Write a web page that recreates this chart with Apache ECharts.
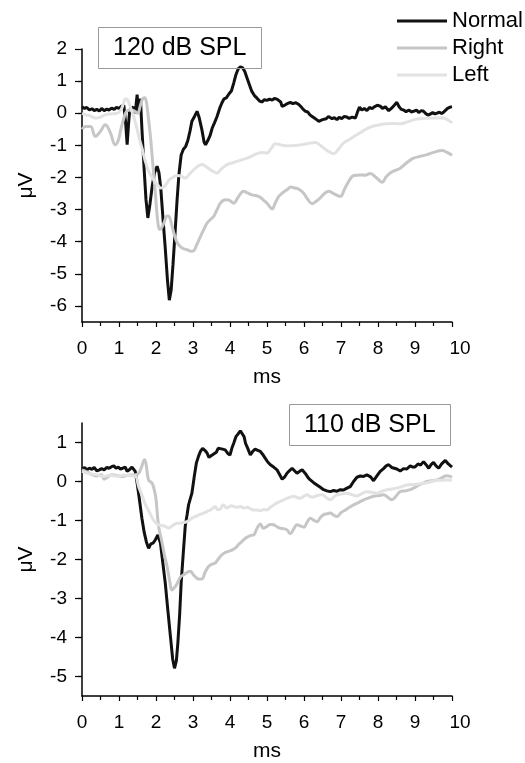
<!DOCTYPE html>
<html>
<head>
<meta charset="utf-8">
<script src="https://cdn.jsdelivr.net/npm/echarts@6/dist/echarts.min.js"></script>
<style>
html,body{margin:0;padding:0;background:#fff;}
#chart{width:525px;height:763px;}
</style>
</head>
<body>
<div id="chart"></div>
<script>
// ---------- DATA ----------
var seriesNames = ['Normal', 'Right', 'Left'];
var panelTitles = ['120 dB SPL', '110 dB SPL'];
var xTicks = [0,1,2,3,4,5,6,7,8,9,10];
var topYTicks = [-6,-5,-4,-3,-2,-1,0,1,2];
var botYTicks = [-5,-4,-3,-2,-1,0,1];

// Top panel (120 dB SPL) — time (ms) and amplitude (µV)
var topNormalT = [0.00,0.07,0.13,0.20,0.27,0.33,0.40,0.47,0.53,0.60,0.67,0.73,0.80,0.87,0.93,1.00,1.07,1.13,1.18,1.22,1.26,1.29,1.34,1.38,1.42,1.46,1.49,1.52,1.55,1.58,1.62,1.68,1.73,1.78,1.84,1.90,1.96,2.03,2.08,2.13,2.19,2.25,2.31,2.36,2.41,2.46,2.52,2.57,2.62,2.68,2.74,2.80,2.86,2.92,2.97,3.04,3.11,3.17,3.24,3.30,3.34,3.40,3.46,3.52,3.58,3.65,3.72,3.78,3.84,3.90,3.97,4.04,4.10,4.16,4.22,4.28,4.34,4.40,4.46,4.52,4.59,4.66,4.73,4.80,4.86,4.93,5.00,5.07,5.14,5.20,5.27,5.32,5.37,5.41,5.48,5.55,5.63,5.70,5.78,5.86,5.92,5.98,6.04,6.10,6.16,6.22,6.28,6.34,6.40,6.44,6.50,6.55,6.60,6.66,6.71,6.76,6.82,6.89,6.95,7.02,7.08,7.16,7.22,7.30,7.39,7.45,7.50,7.56,7.63,7.70,7.77,7.84,7.90,7.98,8.06,8.12,8.20,8.29,8.36,8.44,8.51,8.57,8.63,8.69,8.76,8.84,8.90,8.96,9.04,9.10,9.17,9.23,9.30,9.36,9.41,9.48,9.54,9.59,9.66,9.72,9.78,9.82,9.88,9.95,10.00];
var topNormalV = [0.20,0.15,0.18,0.10,0.14,0.08,0.12,0.07,0.15,0.08,0.13,0.10,0.16,0.12,0.18,0.15,0.22,0.25,-0.30,-0.98,-0.30,0.10,0.05,0.20,0.00,0.25,0.58,0.05,0.10,0.45,-0.50,-1.76,-2.70,-3.26,-2.80,-2.25,-1.85,-1.65,-1.85,-2.35,-3.30,-4.20,-5.20,-5.82,-5.50,-4.70,-3.63,-2.70,-1.90,-1.30,-1.12,-1.04,-0.85,-0.55,-0.25,-0.10,0.06,-0.15,-0.51,-0.90,-0.98,-0.85,-0.70,-0.46,-0.30,-0.10,0.15,0.32,0.45,0.48,0.60,0.70,0.94,1.20,1.38,1.44,1.42,1.30,1.10,0.90,0.68,0.55,0.47,0.38,0.35,0.42,0.40,0.44,0.41,0.46,0.44,0.47,0.35,0.21,0.25,0.30,0.34,0.30,0.33,0.27,0.20,0.12,0.06,0.04,-0.05,-0.10,-0.15,-0.20,-0.25,-0.28,-0.20,-0.24,-0.17,-0.10,-0.08,-0.17,-0.14,-0.20,-0.13,-0.17,-0.10,-0.12,-0.16,-0.12,-0.15,0.05,0.19,0.10,0.15,0.08,0.18,0.14,0.20,0.25,0.22,0.15,0.20,0.08,0.15,0.25,0.34,0.20,0.12,0.10,0.05,0.10,0.04,0.06,0.10,0.02,0.08,0.06,-0.02,-0.06,-0.08,0.02,-0.02,0.00,0.03,-0.01,0.04,0.00,0.15,0.19,0.20];

var topRightT = [0.00,0.09,0.23,0.36,0.50,0.63,0.77,0.90,0.98,1.05,1.12,1.20,1.30,1.40,1.50,1.58,1.64,1.69,1.74,1.80,1.86,1.93,1.99,2.05,2.10,2.16,2.22,2.30,2.36,2.43,2.50,2.58,2.66,2.75,2.84,2.95,3.02,3.10,3.20,3.30,3.38,3.48,3.56,3.65,3.74,3.84,3.92,4.00,4.10,4.20,4.30,4.37,4.47,4.59,4.70,4.82,4.92,5.00,5.08,5.14,5.22,5.32,5.42,5.54,5.65,5.75,5.85,5.99,6.10,6.22,6.32,6.44,6.55,6.67,6.80,6.98,7.10,7.21,7.34,7.52,7.65,7.79,7.95,8.11,8.22,8.33,8.47,8.60,8.80,8.96,9.15,9.32,9.50,9.73,9.87,10.00];
var topRightV = [-0.50,-0.41,-0.41,-0.72,-0.56,-0.36,-0.62,-0.98,-0.85,-0.50,-0.20,0.05,0.10,0.08,0.00,0.25,0.45,0.48,0.35,-0.20,-0.85,-1.80,-2.60,-3.40,-3.62,-3.55,-3.40,-3.20,-3.22,-3.50,-3.80,-4.05,-4.15,-4.22,-4.25,-4.30,-4.28,-4.10,-3.84,-3.60,-3.42,-3.30,-3.21,-3.00,-2.80,-2.70,-2.69,-2.72,-2.80,-2.65,-2.48,-2.43,-2.48,-2.54,-2.56,-2.62,-2.72,-2.80,-2.92,-2.98,-2.80,-2.59,-2.48,-2.38,-2.30,-2.33,-2.36,-2.49,-2.68,-2.82,-2.75,-2.64,-2.50,-2.43,-2.50,-2.59,-2.35,-2.12,-1.94,-1.92,-1.93,-1.88,-2.00,-2.15,-1.98,-1.86,-1.78,-1.71,-1.52,-1.40,-1.34,-1.29,-1.22,-1.16,-1.22,-1.31];

var topLeftT = [0.00,0.10,0.23,0.36,0.50,0.63,0.80,0.95,1.05,1.12,1.18,1.23,1.29,1.35,1.42,1.48,1.55,1.62,1.70,1.80,1.90,1.98,2.06,2.12,2.20,2.28,2.36,2.45,2.57,2.68,2.79,2.90,3.02,3.13,3.24,3.35,3.47,3.56,3.65,3.78,3.92,4.05,4.19,4.32,4.46,4.60,4.73,4.87,5.00,5.10,5.23,5.35,5.50,5.65,5.83,6.00,6.15,6.31,6.42,6.53,6.65,6.80,6.93,7.07,7.25,7.43,7.60,7.79,8.00,8.20,8.40,8.60,8.80,9.05,9.30,9.50,9.77,9.90,10.00];
var topLeftV = [0.00,-0.05,-0.08,-0.15,-0.12,-0.05,-0.02,0.00,0.10,0.30,0.45,0.42,0.25,0.05,-0.20,-0.46,-0.80,-1.08,-1.45,-1.80,-2.00,-2.15,-2.25,-2.33,-2.30,-2.20,-2.07,-2.00,-1.94,-1.96,-2.02,-1.90,-1.76,-1.65,-1.60,-1.66,-1.76,-1.82,-1.86,-1.72,-1.60,-1.55,-1.50,-1.45,-1.40,-1.33,-1.26,-1.22,-1.24,-1.12,-0.95,-0.98,-1.01,-1.01,-1.00,-0.97,-0.93,-0.91,-0.98,-1.08,-1.18,-1.26,-1.12,-0.93,-0.80,-0.67,-0.55,-0.43,-0.37,-0.33,-0.32,-0.33,-0.27,-0.18,-0.16,-0.15,-0.15,-0.22,-0.30];

// Bottom panel (110 dB SPL)
var botNormalT = [0.00,0.07,0.13,0.20,0.27,0.33,0.40,0.47,0.53,0.60,0.67,0.73,0.80,0.86,0.92,0.98,1.04,1.10,1.17,1.22,1.28,1.35,1.40,1.44,1.49,1.55,1.62,1.68,1.74,1.80,1.86,1.92,1.98,2.05,2.12,2.18,2.25,2.32,2.39,2.45,2.50,2.55,2.59,2.64,2.68,2.74,2.79,2.84,2.88,2.97,3.03,3.09,3.15,3.20,3.26,3.32,3.38,3.43,3.47,3.52,3.56,3.63,3.68,3.72,3.80,3.87,3.94,4.00,4.05,4.10,4.16,4.22,4.28,4.33,4.38,4.42,4.48,4.55,4.62,4.68,4.75,4.82,4.88,4.95,5.02,5.09,5.18,5.27,5.34,5.41,5.48,5.54,5.61,5.68,5.75,5.81,5.88,5.95,6.04,6.11,6.17,6.26,6.35,6.44,6.53,6.62,6.71,6.80,6.89,6.98,7.07,7.16,7.25,7.34,7.43,7.52,7.61,7.70,7.80,7.88,7.93,8.00,8.06,8.15,8.22,8.29,8.37,8.44,8.51,8.60,8.69,8.78,8.87,8.94,9.00,9.08,9.15,9.23,9.30,9.37,9.44,9.50,9.57,9.64,9.72,9.82,9.90,10.00];
var botNormalV = [0.32,0.36,0.30,0.34,0.31,0.36,0.27,0.30,0.33,0.30,0.36,0.34,0.38,0.40,0.34,0.37,0.32,0.34,0.37,0.26,0.30,0.37,0.33,0.26,-0.04,-0.45,-0.95,-1.30,-1.55,-1.71,-1.60,-1.58,-1.50,-1.37,-1.58,-2.05,-2.60,-3.30,-3.97,-4.55,-4.79,-4.60,-4.15,-3.40,-2.60,-1.80,-1.15,-0.85,-0.60,-0.30,0.10,0.47,0.65,0.77,0.85,0.80,0.73,0.62,0.60,0.68,0.66,0.75,0.85,0.82,0.83,0.81,0.72,0.68,0.85,0.98,1.15,1.22,1.30,1.31,1.15,0.98,0.85,0.68,0.78,0.83,0.80,0.77,0.70,0.60,0.50,0.43,0.37,0.30,0.18,0.06,0.12,0.21,0.28,0.34,0.27,0.21,0.26,0.30,0.20,0.10,0.04,-0.03,-0.09,-0.15,-0.21,-0.24,-0.26,-0.23,-0.25,-0.21,-0.22,-0.17,-0.13,0.00,0.11,0.14,0.13,0.17,0.12,0.02,0.04,0.18,0.26,0.33,0.40,0.43,0.36,0.34,0.32,0.27,0.33,0.32,0.40,0.37,0.37,0.45,0.42,0.51,0.43,0.34,0.44,0.49,0.40,0.34,0.45,0.54,0.45,0.37];

var botRightT = [0.00,0.15,0.28,0.40,0.52,0.60,0.67,0.80,0.95,1.10,1.25,1.40,1.52,1.60,1.66,1.69,1.73,1.80,1.89,1.95,2.00,2.07,2.16,2.23,2.30,2.37,2.43,2.50,2.57,2.66,2.75,2.84,2.93,3.00,3.06,3.15,3.24,3.33,3.42,3.51,3.60,3.69,3.78,3.87,3.96,4.05,4.14,4.23,4.32,4.41,4.50,4.57,4.64,4.73,4.82,4.90,5.00,5.09,5.18,5.27,5.36,5.45,5.54,5.63,5.72,5.81,5.90,6.00,6.08,6.17,6.26,6.35,6.44,6.53,6.62,6.71,6.80,6.89,7.00,7.12,7.23,7.34,7.47,7.61,7.75,7.88,8.02,8.15,8.27,8.38,8.50,8.60,8.74,8.87,9.00,9.10,9.21,9.32,9.45,9.59,9.72,9.86,10.00];
var botRightV = [0.30,0.24,0.17,0.14,0.17,0.06,0.10,0.17,0.15,0.13,0.16,0.17,0.20,0.35,0.52,0.56,0.45,0.04,-0.04,-0.20,-0.45,-1.15,-1.55,-1.90,-2.18,-2.55,-2.78,-2.72,-2.62,-2.45,-2.39,-2.33,-2.30,-2.38,-2.44,-2.50,-2.50,-2.32,-2.18,-2.12,-2.09,-1.98,-1.88,-1.82,-1.79,-1.76,-1.71,-1.62,-1.54,-1.46,-1.41,-1.38,-1.37,-1.20,-1.09,-1.20,-1.15,-1.10,-1.11,-1.16,-1.20,-1.21,-1.24,-1.34,-1.22,-1.11,-1.14,-1.17,-1.05,-0.94,-0.99,-1.03,-0.93,-0.85,-0.83,-0.81,-0.86,-0.90,-0.80,-0.73,-0.66,-0.60,-0.54,-0.47,-0.42,-0.38,-0.36,-0.34,-0.41,-0.47,-0.36,-0.26,-0.24,-0.21,-0.15,-0.09,-0.05,0.00,0.02,0.04,0.09,0.15,0.11];

var botLeftT = [0.00,0.20,0.40,0.58,0.75,0.95,1.13,1.30,1.44,1.53,1.62,1.71,1.80,1.89,1.98,2.07,2.16,2.25,2.34,2.42,2.50,2.57,2.66,2.75,2.84,2.97,3.11,3.20,3.29,3.38,3.47,3.54,3.60,3.66,3.72,3.79,3.83,3.90,3.96,4.04,4.10,4.19,4.28,4.37,4.46,4.55,4.64,4.73,4.82,4.91,5.00,5.09,5.18,5.27,5.36,5.45,5.54,5.63,5.72,5.81,5.90,5.99,6.08,6.17,6.26,6.35,6.49,6.60,6.71,6.80,6.89,7.02,7.16,7.30,7.43,7.56,7.70,7.84,7.97,8.10,8.24,8.38,8.51,8.65,8.78,8.92,9.05,9.19,9.32,9.45,9.59,9.72,9.86,10.00];
var botLeftV = [0.26,0.20,0.17,0.13,0.16,0.14,0.16,0.15,0.14,-0.13,-0.35,-0.58,-0.75,-0.92,-1.05,-1.11,-1.13,-1.15,-1.19,-1.15,-1.10,-1.07,-1.07,-1.05,-1.03,-0.94,-0.88,-0.84,-0.81,-0.77,-0.73,-0.68,-0.64,-0.72,-0.72,-0.62,-0.60,-0.68,-0.66,-0.62,-0.64,-0.66,-0.64,-0.68,-0.66,-0.70,-0.73,-0.73,-0.75,-0.72,-0.73,-0.66,-0.60,-0.55,-0.51,-0.47,-0.43,-0.40,-0.38,-0.41,-0.43,-0.38,-0.34,-0.39,-0.40,-0.36,-0.34,-0.41,-0.47,-0.40,-0.34,-0.32,-0.30,-0.34,-0.37,-0.31,-0.26,-0.28,-0.30,-0.25,-0.21,-0.19,-0.17,-0.13,-0.09,-0.08,-0.07,-0.05,-0.03,0.00,0.03,0.03,0.04,0.03];

// ---------- CHART ----------
var FONT = '"Liberation Sans", Arial, Helvetica, sans-serif';
var colors = { Normal: '#111111', Right: '#c6c6c6', Left: '#e2e2e2' };
var TICK_FS = 19;

function pairs(T, V) { return T.map(function (t, i) { return [t, V[i]]; }); }

function xAx(grid) {
  return {
    type: 'value', gridIndex: grid, min: xTicks[0], max: xTicks[xTicks.length - 1], interval: 1,
    name: 'ms', nameLocation: 'middle', nameGap: 45,
    nameTextStyle: { fontSize: 21, color: '#000', fontFamily: FONT },
    axisLine: { show: true, onZero: false, lineStyle: { color: '#000', width: 1.5 } },
    axisTick: { show: true, inside: false, length: 5, lineStyle: { color: '#000', width: 1.2 } },
    minorTick: { show: true, splitNumber: 2, length: 4, lineStyle: { color: '#000', width: 1.2 } },
    axisLabel: {
      fontSize: TICK_FS, color: '#000', fontFamily: FONT, margin: 17,
      formatter: function (v) { return v === 10 ? '{r|10}' : String(v); },
      rich: { r: { fontSize: TICK_FS, color: '#000', fontFamily: FONT, padding: [0, 0, 0, 16] } }
    },
    splitLine: { show: false }, minorSplitLine: { show: false }
  };
}
function yAx(grid, mn, mx, ticks) {
  return {
    type: 'value', gridIndex: grid, min: mn, max: mx, interval: 1,
    name: 'μV', nameLocation: 'middle', nameGap: 45, nameRotate: 90,
    nameTextStyle: { fontSize: 21, color: '#000', fontFamily: FONT },
    axisLine: { show: true, onZero: false, lineStyle: { color: '#000', width: 1.5 } },
    axisTick: { show: true, inside: false, length: 7, customValues: ticks, lineStyle: { color: '#000', width: 1.2 } },
    minorTick: { show: true, splitNumber: 2, length: 4, lineStyle: { color: '#000', width: 1.2 } },
    axisLabel: { fontSize: TICK_FS, color: '#000', fontFamily: FONT, margin: 15, customValues: ticks },
    splitLine: { show: false }, minorSplitLine: { show: false }
  };
}
function ser(name, grid, T, V, smooth, z) {
  return {
    name: name, type: 'line', xAxisIndex: grid, yAxisIndex: grid,
    data: pairs(T, V), showSymbol: false, symbol: 'none', smooth: smooth, z: z,
    lineStyle: { color: colors[name], width: 3 },
    itemStyle: { color: colors[name] }
  };
}

var titleStyle = { fontSize: 25, fontWeight: 'normal', color: '#000', fontFamily: FONT };
var chart = echarts.init(document.getElementById('chart'), null, { renderer: 'canvas' });
chart.setOption({
  animation: false,
  backgroundColor: '#fff',
  textStyle: { fontFamily: FONT },
  title: [
    { text: panelTitles[0], left: 98, top: 27, padding: [9, 15, 8, 15],
      borderColor: '#999', borderWidth: 1, textStyle: titleStyle },
    { text: panelTitles[1], left: 289, top: 404, padding: [9, 15, 8, 15],
      borderColor: '#999', borderWidth: 1, textStyle: titleStyle }
  ],
  legend: {
    orient: 'vertical', left: 397, top: 10, padding: 0, itemWidth: 50, itemHeight: 3, itemGap: 5,
    icon: 'rect', data: seriesNames,
    textStyle: { fontSize: 22, color: '#000', fontFamily: FONT }
  },
  grid: [
    { left: 82, width: 370, top: 49, height: 273 },
    { left: 82, width: 370, top: 423, height: 273 }
  ],
  xAxis: [xAx(0), xAx(1)],
  yAxis: [yAx(0, -6.5, 2, topYTicks), yAx(1, -5.5, 1.5, botYTicks)],
  series: [
    ser('Normal', 0, topNormalT, topNormalV, false, 3),
    ser('Right', 0, topRightT, topRightV, 0.4, 4),
    ser('Left', 0, topLeftT, topLeftV, 0.4, 5),
    ser('Normal', 1, botNormalT, botNormalV, false, 3),
    ser('Right', 1, botRightT, botRightV, 0.4, 4),
    ser('Left', 1, botLeftT, botLeftV, 0.4, 5)
  ]
});
</script>
</body>
</html>
